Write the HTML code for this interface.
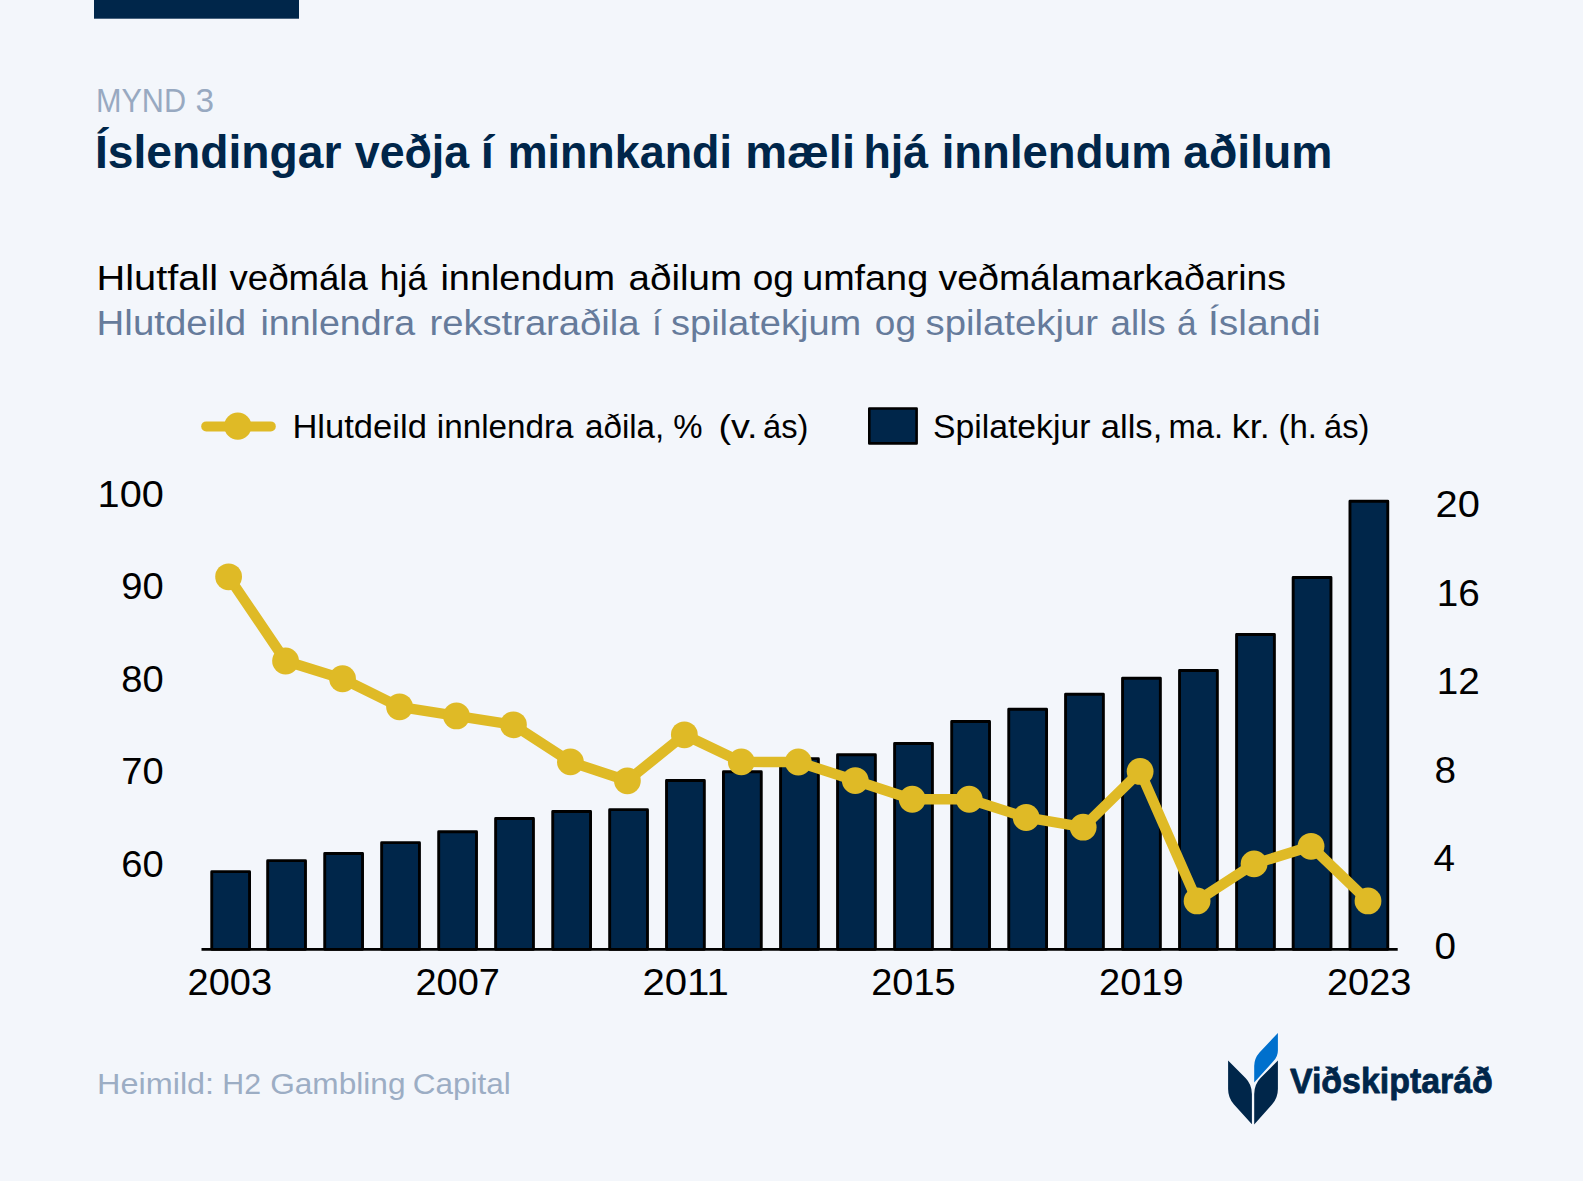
<!DOCTYPE html>
<html lang="is">
<head>
<meta charset="utf-8">
<title>Mynd 3 – Íslendingar veðja í minnkandi mæli hjá innlendum aðilum</title>
<style>
html,body{margin:0;padding:0;background:#F3F6FB;}
body{width:1583px;height:1181px;overflow:hidden;font-family:"Liberation Sans", sans-serif;}
svg{display:block;}
svg text{font-family:"Liberation Sans", sans-serif;white-space:pre;}
</style>
</head>
<body>
<svg width="1583" height="1181" viewBox="0 0 1583 1181">
<rect x="0" y="0" width="1583" height="1181" fill="#F3F6FB"/>
<rect x="94" y="0" width="205" height="18.7" fill="#00264A"/>
<g fill="#00264A" stroke="#000000" stroke-width="2.9" stroke-linejoin="round">
<rect x="211.75" y="871.65" width="37.80" height="77.70"/>
<rect x="267.68" y="860.65" width="37.80" height="88.70"/>
<rect x="324.73" y="853.45" width="37.80" height="95.90"/>
<rect x="381.65" y="842.65" width="37.80" height="106.70"/>
<rect x="438.70" y="831.75" width="37.80" height="117.60"/>
<rect x="495.63" y="818.55" width="37.80" height="130.80"/>
<rect x="552.74" y="811.45" width="37.80" height="137.90"/>
<rect x="609.67" y="809.65" width="37.80" height="139.70"/>
<rect x="666.53" y="780.45" width="37.80" height="168.90"/>
<rect x="723.46" y="771.75" width="37.80" height="177.60"/>
<rect x="780.57" y="758.65" width="37.80" height="190.70"/>
<rect x="837.56" y="754.75" width="37.80" height="194.60"/>
<rect x="894.61" y="743.55" width="37.80" height="205.80"/>
<rect x="951.71" y="721.45" width="37.80" height="227.90"/>
<rect x="1008.76" y="709.25" width="37.80" height="240.10"/>
<rect x="1065.57" y="694.25" width="37.80" height="255.10"/>
<rect x="1122.56" y="678.25" width="37.80" height="271.10"/>
<rect x="1179.55" y="670.45" width="37.80" height="278.90"/>
<rect x="1236.59" y="634.55" width="37.80" height="314.80"/>
<rect x="1293.16" y="577.45" width="37.80" height="371.90"/>
<rect x="1349.97" y="501.25" width="37.80" height="448.10"/>
</g>
<line x1="201.5" y1="949.4" x2="1397.7" y2="949.4" stroke="#000000" stroke-width="2.8"/>
<polyline points="228.60,576.81 285.57,661.00 342.54,678.74 399.51,706.80 456.48,715.96 513.45,724.79 570.42,761.89 627.39,780.79 684.36,734.80 741.33,761.89 798.30,762.02 855.27,780.53 912.24,799.24 969.21,799.24 1026.18,817.49 1083.15,827.17 1140.12,771.43 1197.09,900.97 1254.06,863.88 1311.03,846.34 1368.00,900.97" fill="none" stroke="#DFBA26" stroke-width="10.4" stroke-linejoin="round" stroke-linecap="round"/>
<g fill="#DFBA26">
<circle cx="228.60" cy="576.81" r="13.4"/>
<circle cx="285.57" cy="661.00" r="13.4"/>
<circle cx="342.54" cy="678.74" r="13.4"/>
<circle cx="399.51" cy="706.80" r="13.4"/>
<circle cx="456.48" cy="715.96" r="13.4"/>
<circle cx="513.45" cy="724.79" r="13.4"/>
<circle cx="570.42" cy="761.89" r="13.4"/>
<circle cx="627.39" cy="780.79" r="13.4"/>
<circle cx="684.36" cy="734.80" r="13.4"/>
<circle cx="741.33" cy="761.89" r="13.4"/>
<circle cx="798.30" cy="762.02" r="13.4"/>
<circle cx="855.27" cy="780.53" r="13.4"/>
<circle cx="912.24" cy="799.24" r="13.4"/>
<circle cx="969.21" cy="799.24" r="13.4"/>
<circle cx="1026.18" cy="817.49" r="13.4"/>
<circle cx="1083.15" cy="827.17" r="13.4"/>
<circle cx="1140.12" cy="771.43" r="13.4"/>
<circle cx="1197.09" cy="900.97" r="13.4"/>
<circle cx="1254.06" cy="863.88" r="13.4"/>
<circle cx="1311.03" cy="846.34" r="13.4"/>
<circle cx="1368.00" cy="900.97" r="13.4"/>
</g>
<line x1="206.2" y1="426.4" x2="270.8" y2="426.4" stroke="#DFBA26" stroke-width="10" stroke-linecap="round"/>
<circle cx="237.8" cy="426.2" r="13.6" fill="#DFBA26"/>
<rect x="869.3" y="408.5" width="47.3" height="34.9" fill="#00264A" stroke="#000000" stroke-width="2.6" stroke-linejoin="round"/>
<g id="logo">
<path fill="#00264A" d="M1228.1 1060.6 L1228.1 1089 Q1228.1 1098 1234 1104.5 L1251.9 1124.3 L1251.9 1094 Q1251.9 1084.5 1245.5 1078 Z"/>
<path fill="#00264A" d="M1277.9 1060.6 L1277.9 1089 Q1277.9 1098 1272 1104.5 L1254.2 1124.5 L1254.2 1094 Q1254.2 1084.5 1260.5 1078 Z"/>
<path fill="#0070CD" d="M1277.9 1033.0 L1277.9 1050.5 Q1277.9 1056.5 1273.5 1061 L1254.2 1082.5 L1254.2 1066 Q1254.2 1058.5 1259.5 1052.5 Z"/>
</g>
<g font-size="33.30" font-weight="400" fill="#98A9C1">
<text x="95.96" y="111.70" textLength="90.10" lengthAdjust="spacingAndGlyphs">MYND</text>
<text x="195.60" y="111.70" textLength="18.52" lengthAdjust="spacingAndGlyphs">3</text>
</g>
<g font-size="47.00" font-weight="700" fill="#00264A">
<text x="94.93" y="167.50" textLength="246.65" lengthAdjust="spacingAndGlyphs">Íslendingar</text>
<text x="354.80" y="167.50" textLength="114.38" lengthAdjust="spacingAndGlyphs">veðja</text>
<text x="480.75" y="167.50" textLength="13.06" lengthAdjust="spacingAndGlyphs">í</text>
<text x="507.64" y="167.50" textLength="224.28" lengthAdjust="spacingAndGlyphs">minnkandi</text>
<text x="745.20" y="167.50" textLength="109.76" lengthAdjust="spacingAndGlyphs">mæli</text>
<text x="863.44" y="167.50" textLength="64.74" lengthAdjust="spacingAndGlyphs">hjá</text>
<text x="941.70" y="167.50" textLength="230.01" lengthAdjust="spacingAndGlyphs">innlendum</text>
<text x="1183.31" y="167.50" textLength="149.23" lengthAdjust="spacingAndGlyphs">aðilum</text>
</g>
<g font-size="35.30" font-weight="400" fill="#000000">
<text x="96.55" y="289.60" textLength="121.63" lengthAdjust="spacingAndGlyphs">Hlutfall</text>
<text x="229.50" y="289.60" textLength="138.32" lengthAdjust="spacingAndGlyphs">veðmála</text>
<text x="379.89" y="289.60" textLength="47.34" lengthAdjust="spacingAndGlyphs">hjá</text>
<text x="440.46" y="289.60" textLength="174.65" lengthAdjust="spacingAndGlyphs">innlendum</text>
<text x="628.61" y="289.60" textLength="113.32" lengthAdjust="spacingAndGlyphs">aðilum</text>
<text x="752.75" y="289.60" textLength="41.16" lengthAdjust="spacingAndGlyphs">og</text>
<text x="802.16" y="289.60" textLength="125.98" lengthAdjust="spacingAndGlyphs">umfang</text>
<text x="938.50" y="289.60" textLength="347.59" lengthAdjust="spacingAndGlyphs">veðmálamarkaðarins</text>
</g>
<g font-size="35.30" font-weight="400" fill="#667B9B">
<text x="96.62" y="334.60" textLength="149.55" lengthAdjust="spacingAndGlyphs">Hlutdeild</text>
<text x="260.47" y="334.60" textLength="154.64" lengthAdjust="spacingAndGlyphs">innlendra</text>
<text x="429.44" y="334.60" textLength="210.06" lengthAdjust="spacingAndGlyphs">rekstraraðila</text>
<text x="652.05" y="334.60" textLength="9.81" lengthAdjust="spacingAndGlyphs">í</text>
<text x="671.00" y="334.60" textLength="190.21" lengthAdjust="spacingAndGlyphs">spilatekjum</text>
<text x="874.85" y="334.60" textLength="41.16" lengthAdjust="spacingAndGlyphs">og</text>
<text x="925.60" y="334.60" textLength="172.33" lengthAdjust="spacingAndGlyphs">spilatekjur</text>
<text x="1110.56" y="334.60" textLength="55.12" lengthAdjust="spacingAndGlyphs">alls</text>
<text x="1176.90" y="334.60" textLength="19.63" lengthAdjust="spacingAndGlyphs">á</text>
<text x="1207.99" y="334.60" textLength="112.64" lengthAdjust="spacingAndGlyphs">Íslandi</text>
</g>
<g font-size="32.95" font-weight="400" fill="#000000">
<text x="292.40" y="438.10" textLength="134.48" lengthAdjust="spacingAndGlyphs">Hlutdeild</text>
<text x="436.88" y="438.10" textLength="136.73" lengthAdjust="spacingAndGlyphs">innlendra</text>
<text x="585.09" y="438.10" textLength="79.17" lengthAdjust="spacingAndGlyphs">aðila,</text>
<text x="673.35" y="438.10" textLength="29.29" lengthAdjust="spacingAndGlyphs">%</text>
<text x="718.41" y="438.10" textLength="39.16" lengthAdjust="spacingAndGlyphs">(v.</text>
<text x="763.01" y="438.10" textLength="45.34" lengthAdjust="spacingAndGlyphs">ás)</text>
</g>
<g font-size="32.95" font-weight="400" fill="#000000">
<text x="932.98" y="438.10" textLength="157.49" lengthAdjust="spacingAndGlyphs">Spilatekjur</text>
<text x="1100.75" y="438.10" textLength="61.51" lengthAdjust="spacingAndGlyphs">alls,</text>
<text x="1168.51" y="438.10" textLength="54.63" lengthAdjust="spacingAndGlyphs">ma.</text>
<text x="1231.81" y="438.10" textLength="38.04" lengthAdjust="spacingAndGlyphs">kr.</text>
<text x="1278.50" y="438.10" textLength="38.45" lengthAdjust="spacingAndGlyphs">(h.</text>
<text x="1324.01" y="438.10" textLength="45.34" lengthAdjust="spacingAndGlyphs">ás)</text>
</g>
<g font-size="30.40" font-weight="400" fill="#9CADC4">
<text x="97.07" y="1093.60" textLength="117.04" lengthAdjust="spacingAndGlyphs">Heimild:</text>
<text x="222.31" y="1093.60" textLength="38.69" lengthAdjust="spacingAndGlyphs">H2</text>
<text x="270.16" y="1093.60" textLength="135.32" lengthAdjust="spacingAndGlyphs">Gambling</text>
<text x="412.76" y="1093.60" textLength="97.95" lengthAdjust="spacingAndGlyphs">Capital</text>
</g>
<g font-size="35.50" font-weight="700" fill="#00264A" stroke="#00264A" stroke-width="0.8" stroke-linejoin="round">
<text x="1289.90" y="1093.40" textLength="202.95" lengthAdjust="spacingAndGlyphs">Viðskiptaráð</text>
</g>
<g font-size="36.50" font-weight="400" fill="#000000">
<text x="97.63" y="507.00" textLength="66.19" lengthAdjust="spacingAndGlyphs">100</text>
</g>
<g font-size="36.50" font-weight="400" fill="#000000">
<text x="121.36" y="599.45" textLength="42.40" lengthAdjust="spacingAndGlyphs">90</text>
</g>
<g font-size="36.50" font-weight="400" fill="#000000">
<text x="121.36" y="691.90" textLength="42.40" lengthAdjust="spacingAndGlyphs">80</text>
</g>
<g font-size="36.50" font-weight="400" fill="#000000">
<text x="121.36" y="784.35" textLength="42.40" lengthAdjust="spacingAndGlyphs">70</text>
</g>
<g font-size="36.50" font-weight="400" fill="#000000">
<text x="121.36" y="876.80" textLength="42.40" lengthAdjust="spacingAndGlyphs">60</text>
</g>
<g font-size="36.50" font-weight="400" fill="#000000">
<text x="1435.51" y="517.30" textLength="44.31" lengthAdjust="spacingAndGlyphs">20</text>
</g>
<g font-size="36.50" font-weight="400" fill="#000000">
<text x="1436.74" y="605.70" textLength="43.04" lengthAdjust="spacingAndGlyphs">16</text>
</g>
<g font-size="36.50" font-weight="400" fill="#000000">
<text x="1436.74" y="694.10" textLength="43.04" lengthAdjust="spacingAndGlyphs">12</text>
</g>
<g font-size="36.50" font-weight="400" fill="#000000">
<text x="1434.46" y="782.50" textLength="21.52" lengthAdjust="spacingAndGlyphs">8</text>
</g>
<g font-size="36.50" font-weight="400" fill="#000000">
<text x="1433.40" y="870.90" textLength="21.52" lengthAdjust="spacingAndGlyphs">4</text>
</g>
<g font-size="36.50" font-weight="400" fill="#000000">
<text x="1434.46" y="959.30" textLength="21.52" lengthAdjust="spacingAndGlyphs">0</text>
</g>
<g font-size="36.50" font-weight="400" fill="#000000">
<text x="187.62" y="995.20" textLength="84.36" lengthAdjust="spacingAndGlyphs">2003</text>
</g>
<g font-size="36.50" font-weight="400" fill="#000000">
<text x="415.50" y="995.20" textLength="84.36" lengthAdjust="spacingAndGlyphs">2007</text>
</g>
<g font-size="36.50" font-weight="400" fill="#000000">
<text x="642.41" y="995.20" textLength="86.33" lengthAdjust="spacingAndGlyphs">2011</text>
</g>
<g font-size="36.50" font-weight="400" fill="#000000">
<text x="871.26" y="995.20" textLength="84.36" lengthAdjust="spacingAndGlyphs">2015</text>
</g>
<g font-size="36.50" font-weight="400" fill="#000000">
<text x="1099.14" y="995.20" textLength="84.36" lengthAdjust="spacingAndGlyphs">2019</text>
</g>
<g font-size="36.50" font-weight="400" fill="#000000">
<text x="1327.02" y="995.20" textLength="84.36" lengthAdjust="spacingAndGlyphs">2023</text>
</g>
</svg>
</body>
</html>
